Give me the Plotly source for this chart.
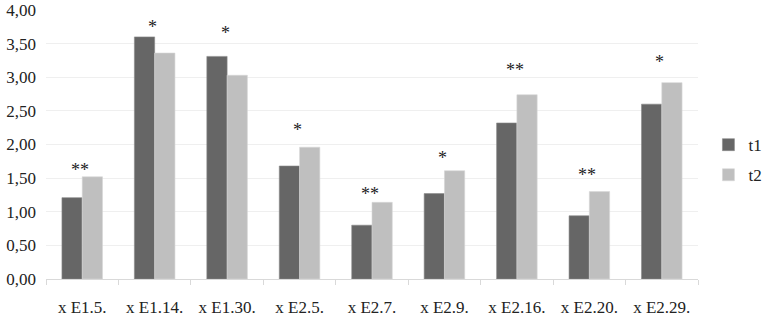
import plotly.graph_objects as go

categories = ["x E1.5.", "x E1.14.", "x E1.30.", "x E2.5.", "x E2.7.", "x E2.9.", "x E2.16.", "x E2.20.", "x E2.29."]
t1 = [1.21, 3.60, 3.31, 1.68, 0.80, 1.27, 2.32, 0.94, 2.60]
t2 = [1.52, 3.36, 3.03, 1.96, 1.14, 1.61, 2.74, 1.30, 2.92]
sig = ["**", "*", "*", "*", "**", "*", "**", "**", "*"]
sig_y = [1.68, 3.81, 3.72, 2.27, 1.32, 1.86, 3.16, 1.60, 3.28]
y_ticks = [0, 0.5, 1, 1.5, 2, 2.5, 3, 3.5, 4]
y_ticktext = ["0,00", "0,50", "1,00", "1,50", "2,00", "2,50", "3,00", "3,50", "4,00"]

FONT = "Liberation Serif, Times New Roman, serif"

fig = go.Figure()
fig.add_trace(go.Bar(name="t1", x=categories, y=t1, legendgroup="a",
                     marker=dict(color="#666666", line=dict(color="#8a8a8a", width=0.6))))
fig.add_trace(go.Bar(name="t2", x=categories, y=t2, legendgroup="b",
                     marker=dict(color="#bfbfbf", line=dict(color="#d6d6d6", width=0.6))))

for c, s, yv in zip(categories, sig, sig_y):
    fig.add_annotation(x=c, y=yv, text=s, showarrow=False, xshift=-2, yshift=-4,
                       font=dict(family=FONT, size=18, color="#222222"),
                       yanchor="middle", xanchor="center")

fig.update_layout(
    width=777, height=320,
    margin=dict(l=46, r=60, t=10, b=41),
    paper_bgcolor="white", plot_bgcolor="white",
    barmode="group", bargap=0.44, bargroupgap=0,
    font=dict(family=FONT, size=17, color="#222222"),
    showlegend=True,
    legend=dict(x=1.016, xanchor="left", y=0.442, yanchor="middle",
                font=dict(family=FONT, size=17, color="#222222"),
                tracegroupgap=5, traceorder="grouped",
                bgcolor="rgba(0,0,0,0)", borderwidth=0),
)
fig.update_xaxes(showline=True, linecolor="#d9d9d9", linewidth=1, automargin=False,
                 ticks="outside", tickson="boundaries", ticklen=5, tickcolor="#d9d9d9",
                 ticklabelstandoff=13,
                 showgrid=False, tickfont=dict(family=FONT, size=17, color="#222222"))
fig.update_yaxes(range=[0, 4], tickvals=y_ticks, ticktext=y_ticktext, automargin=False,
                 showgrid=True, gridcolor="#efefef", gridwidth=1,
                 zeroline=False, showline=False, ticks="", ticklabelstandoff=9,
                 tickfont=dict(family=FONT, size=17, color="#222222"))

fig.write_html("out.html", config={"displayModeBar": False},
               post_script="document.body.style.margin='0';")
